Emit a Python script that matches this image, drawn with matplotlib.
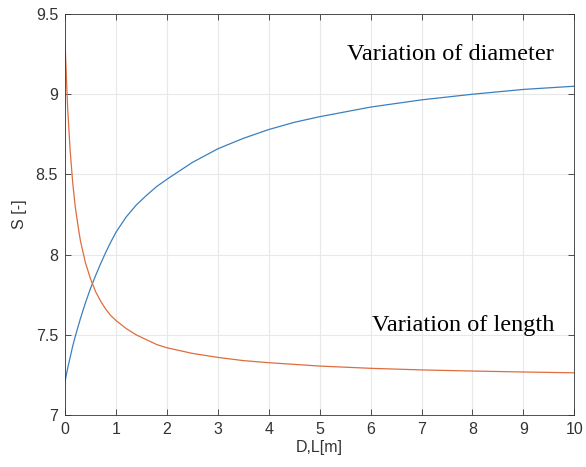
import matplotlib
matplotlib.use('Agg')
import matplotlib.pyplot as plt

# values
x_diam = [0, 0.05, 0.1, 0.15, 0.2, 0.3, 0.4, 0.5, 0.6, 0.7, 0.8, 0.9, 1, 1.2, 1.4, 1.6, 1.8, 2,
          2.5, 3, 3.5, 4, 4.5, 5, 6, 7, 8, 9, 10]
s_diam = [7.21, 7.29, 7.36, 7.43, 7.49, 7.60, 7.70, 7.79, 7.87, 7.945, 8.015, 8.08, 8.14, 8.235,
          8.31, 8.37, 8.425, 8.47, 8.575, 8.66, 8.725, 8.78, 8.825, 8.86, 8.92, 8.965, 9.00, 9.03, 9.05]

x_len = [0, 0.05, 0.1, 0.15, 0.2, 0.25, 0.3, 0.4, 0.5, 0.6, 0.7, 0.8, 0.9, 1, 1.2, 1.4, 1.6, 1.8, 2,
         2.5, 3, 3.5, 4, 5, 6, 7, 8, 9, 10]
s_len = [9.32, 8.92, 8.65, 8.45, 8.30, 8.19, 8.09, 7.95, 7.85, 7.77, 7.71, 7.66, 7.62, 7.59, 7.54,
         7.50, 7.47, 7.44, 7.42, 7.385, 7.36, 7.34, 7.327, 7.306, 7.292, 7.282, 7.275, 7.269, 7.264]

xticks = list(range(0, 11))
yticks = [7, 7.5, 8, 8.5, 9, 9.5]
ytick_labels = ['7', '7.5', '8', '8.5', '9', '9.5']

plt.rcParams['font.family'] = ['Liberation Sans', 'DejaVu Sans']

fig = plt.figure(figsize=(5.86, 4.67), dpi=100)
ax = fig.add_axes([0.111, 0.111, 0.869, 0.859])

ax.plot(x_diam, s_diam, color='#3a80bf', linewidth=0.9)
ax.plot(x_len, s_len, color='#de6d3e', linewidth=0.9)

ax.set_xlim(0, 10)
ax.set_ylim(7, 9.5)
ax.set_xticks(xticks)
ax.set_yticks(yticks)
ax.set_yticklabels(ytick_labels)
ax.grid(True, color='#e8e8e8', linewidth=0.8)
ax.set_axisbelow(True)
ax.tick_params(direction='in', top=True, right=True, labelsize=11.5,
               colors='#333333', length=4, width=0.6, pad=5)
for sp in ax.spines.values():
    sp.set_color('#333333')
    sp.set_linewidth(0.6)

ax.set_xlabel('D,L[m]', fontsize=11.5, color='#333333', labelpad=2)
ax.set_ylabel('S [-]', fontsize=11.5, color='#333333', labelpad=6)

ax.text(7.56, 9.25, 'Variation of diameter', ha='center', va='center',
        fontsize=17.5, family='Liberation Serif', color='black')
ax.text(7.82, 7.56, 'Variation of length', ha='center', va='center',
        fontsize=17.5, family='Liberation Serif', color='black')

fig.savefig('out.png', dpi=100)
